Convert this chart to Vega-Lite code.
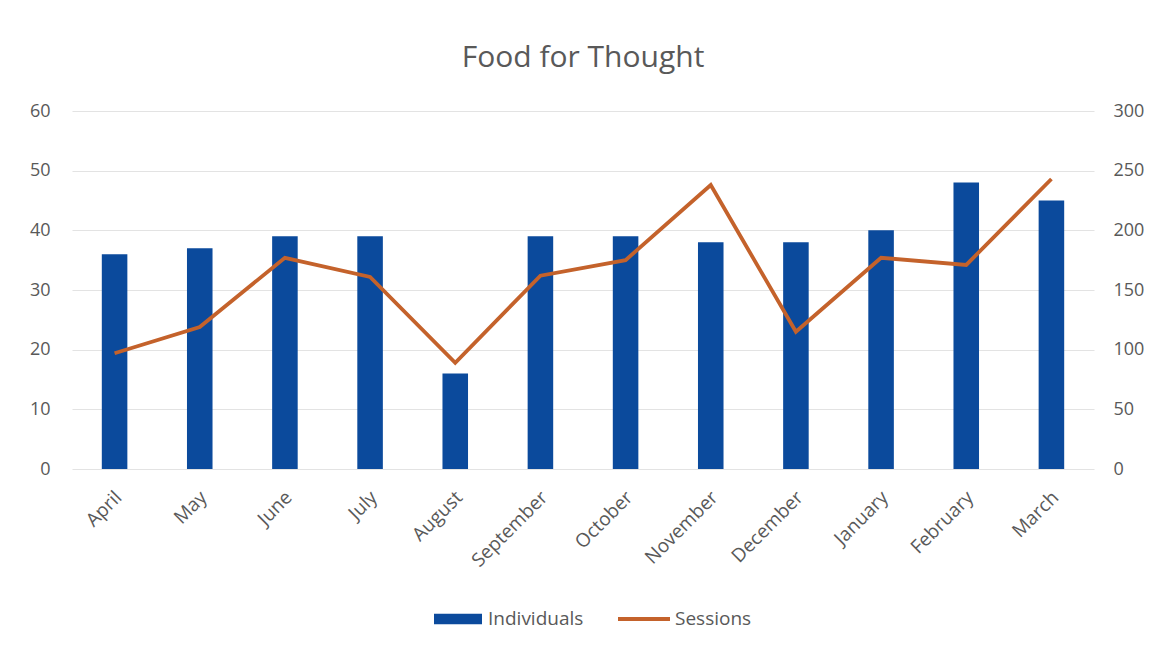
{
  "$schema": "https://vega.github.io/schema/vega-lite/v6.json",
  "width": 1022,
  "height": 358,
  "autosize": {"type": "none"},
  "padding": {"left": 72, "top": 111, "right": 68, "bottom": 181},
  "background": "white",
  "config": {
    "view": {"stroke": null},
    "font": "Open Sans",
    "axis": {"labelFont": "Open Sans", "labelColor": "#595959", "labelFontSize": 18},
    "legend": {"labelFont": "Open Sans", "labelColor": "#595959", "labelFontSize": 19}
  },
  "title": {
    "text": "Food for Thought",
    "fontSize": 30,
    "font": "Open Sans",
    "fontWeight": "normal",
    "color": "#595959",
    "anchor": "middle",
    "offset": 29
  },
  "data": {
    "values": [
      {"month": "April", "Individuals": 36, "Sessions": 97},
      {"month": "May", "Individuals": 37, "Sessions": 119},
      {"month": "June", "Individuals": 39, "Sessions": 177},
      {"month": "July", "Individuals": 39, "Sessions": 161},
      {"month": "August", "Individuals": 16, "Sessions": 89},
      {"month": "September", "Individuals": 39, "Sessions": 162},
      {"month": "October", "Individuals": 39, "Sessions": 175},
      {"month": "November", "Individuals": 38, "Sessions": 238},
      {"month": "December", "Individuals": 38, "Sessions": 115},
      {"month": "January", "Individuals": 40, "Sessions": 177},
      {"month": "February", "Individuals": 48, "Sessions": 171},
      {"month": "March", "Individuals": 45, "Sessions": 243}
    ]
  },
  "encoding": {
    "x": {
      "field": "month",
      "type": "nominal",
      "sort": null,
      "scale": {"paddingInner": 0.7, "paddingOuter": 0.35},
      "axis": {
        "title": null,
        "labelAngle": -45,
        "labelAlign": "right",
        "labelBaseline": "middle",
        "labelPadding": 25,
        "labelOffset": 4,
        "labelFontSize": 19,
        "domain": false,
        "ticks": false,
        "grid": false
      }
    }
  },
  "layer": [
    {
      "mark": {"type": "bar"},
      "encoding": {
        "y": {
          "field": "Individuals",
          "type": "quantitative",
          "scale": {"domain": [0, 60], "nice": false},
          "axis": {
            "title": null,
            "orient": "left",
            "values": [0, 10, 20, 30, 40, 50, 60],
            "grid": true,
            "gridColor": "#e3e3e3",
            "gridWidth": 1,
            "domain": false,
            "ticks": false,
            "labelPadding": 22
          }
        },
        "fill": {
          "datum": "Individuals",
          "scale": {"domain": ["Individuals"], "range": ["#0B4A9C"]},
          "legend": {
            "title": null,
            "orient": "none",
            "legendX": 362,
            "legendY": 484,
            "symbolType": "M-1,-0.22H1V0.22H-1Z",
            "symbolSize": 2304,
            "symbolStrokeWidth": 0,
            "labelOffset": 6
          }
        }
      }
    },
    {
      "mark": {"type": "line", "strokeWidth": 3.8, "strokeJoin": "miter"},
      "encoding": {
        "y": {
          "field": "Sessions",
          "type": "quantitative",
          "scale": {"domain": [0, 300], "nice": false},
          "axis": {
            "title": null,
            "orient": "right",
            "values": [0, 50, 100, 150, 200, 250, 300],
            "grid": false,
            "domain": false,
            "ticks": false,
            "labelPadding": 19
          }
        },
        "stroke": {
          "datum": "Sessions",
          "scale": {"domain": ["Sessions"], "range": ["#C4622B"]},
          "legend": {
            "title": null,
            "orient": "none",
            "legendX": 544,
            "legendY": 480,
            "symbolType": "stroke",
            "symbolSize": 2704,
            "symbolStrokeWidth": 4,
            "labelOffset": 3
          }
        }
      }
    }
  ],
  "resolve": {"scale": {"y": "independent", "fill": "independent", "stroke": "independent"}}
}
